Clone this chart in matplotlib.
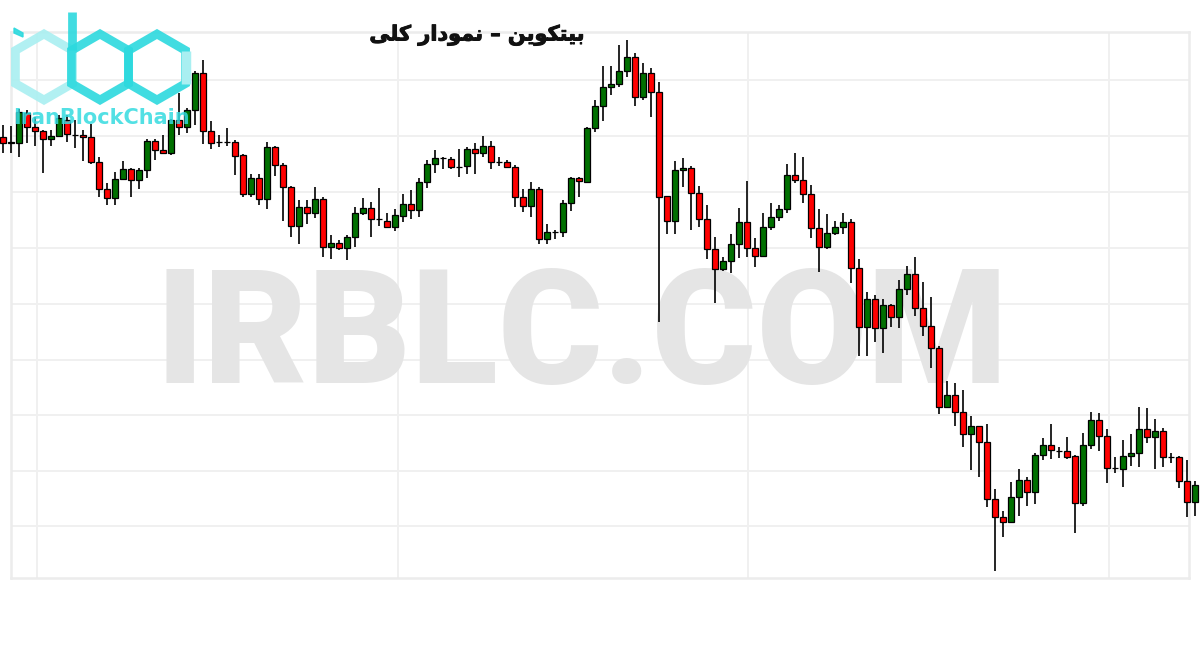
import numpy as np
import matplotlib
matplotlib.use("Agg")
import matplotlib.pyplot as plt
import matplotlib.patheffects as pe
from matplotlib.patches import Polygon

# ---------------- data (price units) ----------------
opens = [463, 457, 457, 487, 473, 469, 461, 464, 480, 465, 465, 463, 438, 411, 402, 421, 431, 420, 430, 459,
         450, 447, 480, 473, 490, 527, 469, 458, 458, 458, 445, 406, 422, 401, 453, 435, 413, 374, 393, 387,
         401, 353, 357, 352, 363, 387, 392, 381, 379, 373, 384, 396, 390, 418, 436, 442, 441, 433, 434, 451,
         447, 454, 438, 438, 433, 403, 394, 411, 361, 368, 368, 397, 422, 418, 472, 494, 513, 516, 529, 543,
         503, 527, 508, 404, 379, 430, 432, 407, 381, 351, 331, 339, 356, 378, 352, 344, 373, 383, 391, 425,
         420, 406, 372, 353, 367, 373, 378, 332, 273, 301, 272, 295, 283, 311, 326, 292, 274, 252, 193, 205,
         188, 166, 174, 158, 101, 83, 78, 103, 120, 108, 145, 155, 149, 149, 144, 97, 155, 180, 164, 132,
         131, 144, 147, 171, 163, 169, 143, 143, 119, 98]
highs = [475, 474, 491, 490, 483, 470, 470, 485, 485, 480, 470, 476, 443, 417, 428, 439, 432, 432, 461, 461,
         465, 481, 507, 492, 529, 540, 479, 465, 472, 460, 446, 426, 426, 458, 454, 437, 414, 400, 400, 413,
         403, 365, 360, 365, 393, 402, 398, 412, 387, 391, 406, 410, 422, 440, 450, 443, 443, 451, 453, 457,
         464, 459, 443, 440, 435, 411, 418, 413, 376, 370, 400, 423, 423, 473, 500, 534, 534, 555, 560, 547,
         537, 532, 518, 404, 439, 442, 434, 414, 395, 363, 343, 366, 392, 419, 362, 387, 397, 395, 436, 447,
         443, 415, 391, 386, 379, 387, 381, 341, 308, 305, 301, 296, 320, 334, 343, 318, 303, 254, 219, 217,
         210, 184, 174, 176, 111, 89, 118, 131, 123, 147, 162, 176, 153, 163, 145, 167, 188, 187, 171, 143,
         160, 166, 193, 192, 181, 172, 147, 144, 140, 119]
lows = [447, 447, 443, 457, 454, 427, 454, 463, 458, 452, 439, 436, 403, 395, 395, 420, 403, 411, 422, 440,
        446, 445, 465, 467, 475, 456, 451, 453, 454, 425, 403, 403, 395, 391, 424, 379, 363, 356, 376, 382,
        343, 341, 350, 340, 353, 385, 363, 374, 372, 369, 378, 381, 383, 412, 427, 431, 431, 423, 426, 426,
        443, 431, 434, 433, 393, 388, 383, 356, 356, 361, 363, 389, 403, 417, 468, 479, 505, 513, 523, 494,
        500, 483, 278, 366, 366, 413, 370, 373, 341, 297, 329, 327, 342, 343, 333, 343, 370, 379, 387, 417,
        397, 362, 328, 351, 365, 366, 317, 244, 244, 258, 247, 273, 272, 305, 284, 264, 232, 186, 193, 174,
        153, 130, 123, 93, 29, 63, 78, 84, 94, 96, 140, 141, 142, 141, 67, 94, 151, 149, 117, 127,
        113, 134, 133, 157, 131, 133, 137, 112, 83, 84]
closes = [457, 458, 488, 473, 469, 461, 464, 482, 466, 465, 463, 438, 411, 402, 421, 431, 420, 430, 459, 450,
          447, 480, 473, 490, 527, 469, 457, 458, 458, 444, 406, 422, 401, 453, 435, 413, 374, 393, 387, 401,
          353, 357, 352, 363, 387, 392, 381, 381, 373, 385, 396, 390, 418, 436, 442, 442, 433, 433, 451, 447,
          454, 438, 438, 433, 403, 394, 411, 361, 368, 368, 397, 422, 419, 472, 494, 513, 516, 529, 543, 503,
          527, 508, 403, 379, 430, 432, 407, 381, 351, 331, 339, 356, 378, 352, 344, 373, 383, 391, 425, 420,
          406, 372, 353, 367, 373, 378, 332, 273, 301, 272, 295, 283, 311, 326, 292, 274, 252, 193, 205, 188,
          166, 174, 158, 101, 83, 78, 103, 120, 108, 145, 155, 150, 149, 143, 97, 155, 180, 164, 132, 132,
          144, 147, 171, 163, 169, 143, 143, 119, 98, 115]

title_text = "بیتکوین – نمودار کلی"
watermark_text = "IRBLC.COM"
logo_text = "IranBlockChain"

# ---------------- minimal Arabic-script shaping (presentation forms) ----------------
AR_FORMS = {
    'ب': ('\uFE8F', '\uFE90', '\uFE91', '\uFE92'),
    'ت': ('\uFE95', '\uFE96', '\uFE97', '\uFE98'),
    'ی': ('\uFBFC', '\uFBFD', '\uFBFE', '\uFBFF'),
    'ک': ('\uFB8E', '\uFB8F', '\uFB90', '\uFB91'),
    'و': ('\uFEED', '\uFEEE', None, None),
    'ن': ('\uFEE5', '\uFEE6', '\uFEE7', '\uFEE8'),
    'م': ('\uFEE1', '\uFEE2', '\uFEE3', '\uFEE4'),
    'د': ('\uFEA9', '\uFEAA', None, None),
    'ا': ('\uFE8D', '\uFE8E', None, None),
    'ر': ('\uFEAD', '\uFEAE', None, None),
    'ل': ('\uFEDD', '\uFEDE', '\uFEDF', '\uFEE0'),
}


def shape_rtl(s):
    out = []
    for i, ch in enumerate(s):
        f = AR_FORMS.get(ch)
        if f is None:
            out.append(ch)
            continue
        prev = s[i - 1] if i > 0 else ''
        nxt = s[i + 1] if i + 1 < len(s) else ''
        jp = prev in AR_FORMS and AR_FORMS[prev][2] is not None
        jn = f[2] is not None and nxt in AR_FORMS
        if jp and jn:
            g = f[3]
        elif jp:
            g = f[1]
        elif jn:
            g = f[2]
        else:
            g = f[0]
        out.append(g)
    return ''.join(reversed(out))


# ---------------- figure ----------------
W, H = 1200, 650
fig = plt.figure(figsize=(12, 6.5), dpi=100)
fig.patch.set_facecolor('white')

# axes = the faint framed chart box
L, R, T, B = 11, 1189, 32, 578
ax = fig.add_axes([L / W, (H - B) / H, (R - L) / W, (B - T) / H])
n = len(opens)
x = np.arange(n)
ax.set_xlim((L - 3) / 8, (R - 3) / 8)
ax.set_ylim(600 - B, 600 - T)
for s in ax.spines.values():
    s.set_color('#ececec')
    s.set_linewidth(1.8)
ax.set_yticks([520, 464, 408, 352, 296, 240, 185, 129, 74])
ax.set_xticks([4.25, 49.4, 93.1, 138.25])
ax.tick_params(length=0, labelleft=False, labelbottom=False)
ax.grid(True, color='#f0f0f0', linewidth=1.4)
ax.set_axisbelow(True)

o = np.array(opens, float)
c = np.array(closes, float)
hi = np.array(highs, float)
lo = np.array(lows, float)
up = c >= o
colors = np.where(up, '#007000', '#ff0000')
bottoms = np.minimum(o, c)
heights = np.abs(c - o)

ax.vlines(x, lo, hi, color='black', linewidth=1.2, zorder=3, clip_on=False)
ax.bar(x, heights, bottom=bottoms, width=0.72, color=colors,
       edgecolor='black', linewidth=0.9, zorder=4, clip_on=False)

# watermark (behind candles)
wm = ax.text(155 / W, 1 - 383 / H, watermark_text, transform=fig.transFigure,
             fontsize=110, fontfamily=['Roboto', 'DejaVu Sans'], fontweight='black',
             color='#e5e5e5', ha='left', va='baseline', zorder=1)
fig.canvas.draw()
bb = wm.get_window_extent()
wm.set_fontsize(110 * 852 / bb.width)

# title
fig.text(477 / W, 1 - 35 / H, shape_rtl(title_text), fontsize=15, fontweight='bold',
         fontfamily=['DejaVu Sans'], color='#111111', ha='center', va='center',
         path_effects=[pe.withStroke(linewidth=0.7, foreground='#111111')])

# logo overlay in pixel coordinates
lax = fig.add_axes([0, 0, 1, 1], zorder=10)
lax.set_xlim(0, W)
lax.set_ylim(H, 0)
lax.axis('off')
lax.patch.set_alpha(0)


def hexagon(cx, cy, r):
    ang = np.deg2rad([90, 30, -30, -90, -150, 150])
    return np.column_stack([cx + r * np.cos(ang), cy - r * np.sin(ang)])


cyan = '#2cd9de'
light = '#a9eff1'
lw = 6.3
lax.add_patch(Polygon(hexagon(44, 67, 33), closed=True, fill=False, edgecolor=light, linewidth=lw, alpha=0.9))
lax.add_patch(Polygon(hexagon(100, 67, 33), closed=True, fill=False, edgecolor=cyan, linewidth=lw, alpha=0.9))
lax.add_patch(Polygon(hexagon(157, 67, 33), closed=True, fill=False, edgecolor=cyan, linewidth=lw, alpha=0.9))
rh = hexagon(157, 67, 33)
lax.plot([rh[1, 0], rh[2, 0]], [rh[1, 1], rh[2, 1]], color=light, linewidth=lw + 0.5, solid_capstyle='butt')
lax.plot([72, 72], [12, 50], color=cyan, linewidth=lw, solid_capstyle='butt', alpha=0.9)
lax.add_patch(Polygon([[14, 28], [23, 33], [23, 37], [14, 33]], closed=True, color=cyan, alpha=0.9))
lax.text(13, 124, logo_text, fontsize=15, fontweight='bold', fontfamily='DejaVu Sans',
         color='#35dbe0', alpha=0.85, ha='left', va='baseline')

fig.savefig('out.png', dpi=100, facecolor='white')
